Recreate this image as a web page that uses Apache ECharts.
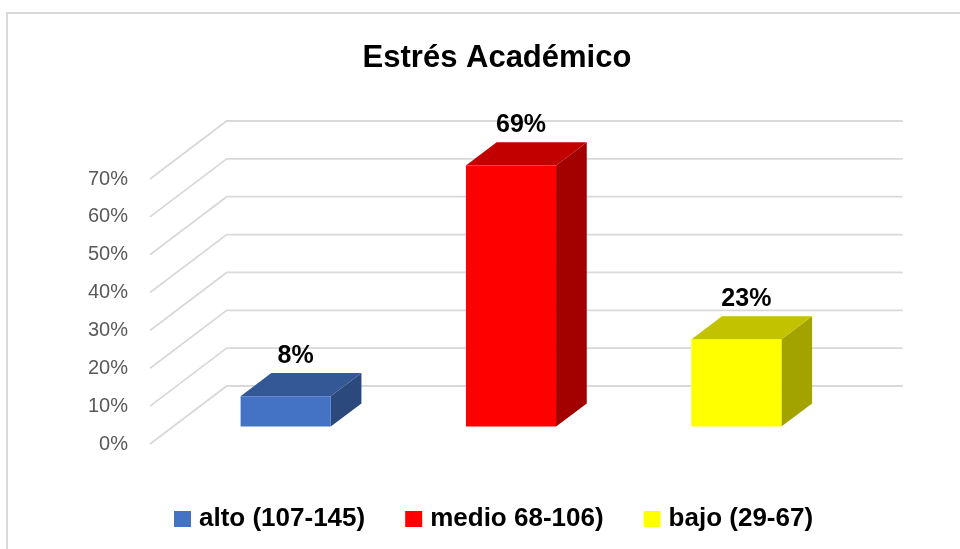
<!DOCTYPE html>
<html>
<head>
<meta charset="utf-8">
<style>
  html, body { margin: 0; padding: 0; background: #fff; }
  #chart { width: 960px; height: 549px; }
</style>
<script src="https://cdn.jsdelivr.net/npm/echarts@6/dist/echarts.min.js"></script>
</head>
<body>
<div id="chart"></div>
<script>
var categories = ['alto (107-145)', 'medio 68-106)', 'bajo (29-67)'];
var values = [0.08, 0.69, 0.23];
var barColors = ['#4472C4', '#FF0000', '#FFFF00'];
var tickValues = [0, 0.1, 0.2, 0.3, 0.4, 0.5, 0.6, 0.7];

// fake 3d: depth vector of the floor, bars sit from 30% to 70% of it
var DX = 76.7, DY = -58;
var FONT = 'Liberation Sans';

function shade(hex, k) {
    var n = parseInt(hex.slice(1), 16);
    var r = Math.round(((n >> 16) & 255) * k);
    var g = Math.round(((n >> 8) & 255) * k);
    var b = Math.round((n & 255) * k);
    return 'rgb(' + r + ',' + g + ',' + b + ')';
}

function renderGridLine(params, api) {
    var p = api.coord([0, api.value(1)]);
    var x0 = params.coordSys.x;
    var x1 = params.coordSys.x + params.coordSys.width;
    return {
        type: 'polyline',
        shape: { points: [[x0, p[1]], [x0 + DX, p[1] + DY], [x1 + DX, p[1] + DY]] },
        style: { stroke: '#d9d9d9', lineWidth: 1.8, fill: null },
        silent: true
    };
}

function makeBarRenderer(color) {
    return function (params, api) {
        var top = api.coord([api.value(0), api.value(1)]);
        var base = api.coord([api.value(0), 0]);
        var w = api.size([1, 0])[0] * 0.4;
        var fx = 0.3 * DX, fy = 0.3 * DY;
        var bx = 0.4 * DX, by = 0.4 * DY;
        var x0 = top[0] - w / 2 + fx, x1 = x0 + w;
        var yT = top[1] + fy, yB = base[1] + fy;
        return {
            type: 'group',
            children: [
                {
                    type: 'polygon',
                    shape: { points: [[x1, yT], [x1 + bx, yT + by], [x1 + bx, yB + by], [x1, yB]] },
                    style: { fill: shade(color, 0.64) }
                },
                {
                    type: 'polygon',
                    shape: { points: [[x0, yT], [x1, yT], [x1 + bx, yT + by], [x0 + bx, yT + by]] },
                    style: { fill: shade(color, 0.76) }
                },
                {
                    type: 'rect',
                    shape: { x: x0, y: yT, width: w, height: yB - yT },
                    style: { fill: color }
                },
                {
                    type: 'text',
                    x: (x0 + x1) / 2 + 10,
                    y: yT + by - 17,
                    style: {
                        text: Math.round(api.value(1) * 100) + '%',
                        fill: '#000',
                        font: 'bold 25px "' + FONT + '"',
                        align: 'center',
                        verticalAlign: 'middle'
                    }
                }
            ]
        };
    };
}

var series = [{
    name: 'grid',
    type: 'custom',
    renderItem: renderGridLine,
    data: tickValues.map(function (t) { return [0, t]; }),
    z: 1,
    silent: true
}];

categories.forEach(function (c, i) {
    series.push({
        name: c,
        type: 'custom',
        renderItem: makeBarRenderer(barColors[i]),
        itemStyle: { color: barColors[i] },
        data: [[i, values[i]]],
        z: 2
    });
});

var chart = echarts.init(document.getElementById('chart'), null, { renderer: 'canvas' });

var option = {
    backgroundColor: '#fff',
    animation: false,
    title: {
        text: 'Estrés Académico',
        left: 497,
        top: 43,
        textAlign: 'center',
        padding: 0,
        textStyle: {
            fontFamily: FONT,
            fontSize: 31,
            fontWeight: 'bold',
            color: '#000',
            lineHeight: 31
        }
    },
    graphic: [{
        type: 'rect',
        shape: { x: 7, y: 13, width: 1000, height: 1000 },
        style: { fill: null, stroke: '#d9d9d9', lineWidth: 2 },
        silent: true
    }],
    legend: {
        data: categories,
        left: 174,
        top: 506,
        padding: 0,
        itemGap: 40,
        itemWidth: 17,
        itemHeight: 16,
        icon: 'rect',
        textStyle: {
            fontFamily: FONT,
            fontSize: 26,
            fontWeight: 'bold',
            color: '#000',
            lineHeight: 26,
            padding: [0, 0, 0, 3]
        }
    },
    grid: {
        left: 150,
        right: 134,
        top: 179,
        bottom: 105
    },
    xAxis: {
        type: 'category',
        data: categories,
        axisLine: { show: false },
        axisTick: { show: false },
        axisLabel: { show: false },
        splitLine: { show: false }
    },
    yAxis: {
        type: 'value',
        min: 0,
        max: 0.7,
        interval: 0.1,
        axisLine: { show: false },
        axisTick: { show: false },
        splitLine: { show: false },
        axisLabel: {
            margin: 22,
            color: '#595959',
            fontFamily: FONT,
            fontSize: 20,
            padding: [6, 0, 0, 0],
            formatter: function (v) { return Math.round(v * 100) + '%'; }
        }
    },
    series: series
};

chart.setOption(option);
window.addEventListener('resize', function () {
    chart.resize();
});
</script>
</body>
</html>
